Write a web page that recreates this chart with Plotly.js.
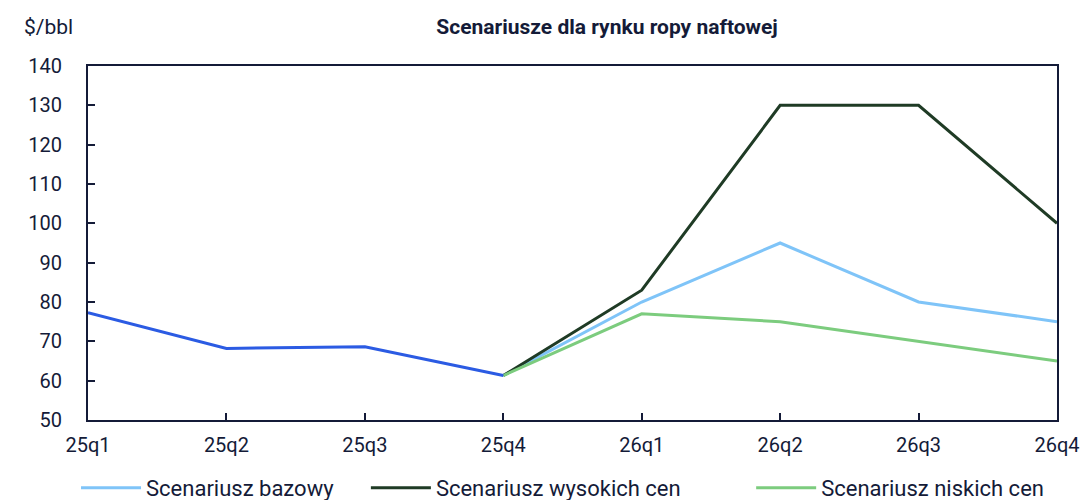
<!DOCTYPE html>
<html><head><meta charset="utf-8">
<script src="https://cdn.plot.ly/plotly-3.0.1.min.js"></script>
<style>body{margin:0;padding:0;background:#fff}#chart{width:1086px;height:500px}</style>
</head><body><div id="chart"></div>
<script>
const quarters = ["25q1","25q2","25q3","25q4","26q1","26q2","26q3","26q4"];
const histQuarters = ["25q1","25q2","25q3","25q4"];
const histValues = [77.3, 68.2, 68.6, 61.3];
const scenQuarters = ["25q4","26q1","26q2","26q3","26q4"];
const baseValues = [61.3, 80, 95, 80, 75];
const highValues = [61.3, 83, 130, 130, 100];
const lowValues = [61.3, 77, 75, 70, 65];
const yTicks = [50,60,70,80,90,100,110,120,130,140];
const legendNames = ["Scenariusz bazowy", "Scenariusz wysokich cen", "Scenariusz niskich cen"];

const navy = "#141b38";
const font = "Roboto, Arial, sans-serif";
const nb = n => "\u00a0".repeat(n);

const traces = [
  {x: scenQuarters, y: baseValues, mode: "lines", name: legendNames[0] + nb(5),
   line: {color: "#7fc4f8", width: 3}},
  {x: scenQuarters, y: highValues, mode: "lines", name: legendNames[1] + nb(12),
   line: {color: "#1f3b25", width: 3}},
  {x: scenQuarters, y: lowValues, mode: "lines", name: legendNames[2],
   line: {color: "#7ccc7e", width: 3}},
  {x: histQuarters, y: histValues, mode: "lines", name: "Historia", showlegend: false,
   line: {color: "#2b5be3", width: 3}}
];

const layout = {
  width: 1086, height: 500,
  margin: {l: 88, r: 29, t: 66, b: 80},
  paper_bgcolor: "#fff", plot_bgcolor: "#fff",
  font: {family: font, color: navy, size: 20},
  title: {text: "<b>Scenariusze dla rynku ropy naftowej</b>", x: 0.559, xanchor: "center", y: 0.946, yanchor: "middle",
          font: {family: font, size: 21, color: navy}},
  xaxis: {type: "category", categoryorder: "array", categoryarray: quarters,
          range: [0, 7], showgrid: false, zeroline: false,
          showline: true, linecolor: navy, linewidth: 2, mirror: true,
          ticks: "inside", ticklen: 7, tickwidth: 2, tickcolor: navy,
          tickfont: {family: font, size: 20, color: navy}, ticklabelstandoff: 6, fixedrange: true},
  yaxis: {range: [50, 140], tickvals: yTicks, showgrid: false, zeroline: false,
          showline: true, linecolor: navy, linewidth: 2, mirror: true,
          ticks: "inside", ticklen: 7, tickwidth: 2, tickcolor: navy,
          tickfont: {family: font, size: 20, color: navy}, ticklabelstandoff: 20, fixedrange: true},
  showlegend: true,
  legend: {orientation: "h", xref: "container", x: 0.07, xanchor: "left",
           yref: "container", y: 0.024, yanchor: "middle", bgcolor: "rgba(0,0,0,0)",
           itemwidth: 60, font: {family: font, size: 22, color: navy},
           traceorder: "normal"},
  annotations: [
    {text: "$/bbl", xref: "paper", yref: "paper", x: -0.068, y: 1.11, xanchor: "left", yanchor: "middle",
     showarrow: false, font: {family: font, size: 21, color: navy}}
  ]
};
Plotly.newPlot("chart", traces, layout, {displayModeBar: false, staticPlot: true});
</script>
</body></html>
